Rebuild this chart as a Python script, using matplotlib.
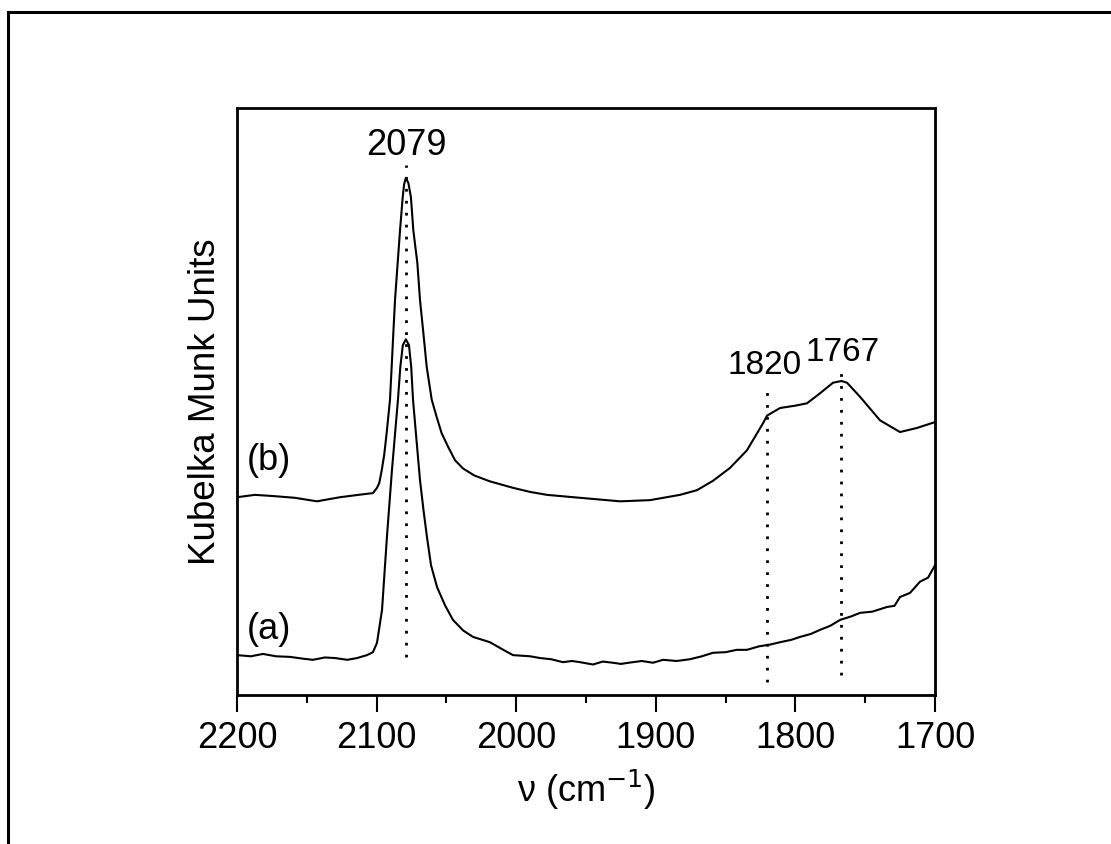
import numpy as np
import matplotlib
matplotlib.use('Agg')
import matplotlib.pyplot as plt
from matplotlib.patches import Rectangle
from matplotlib.ticker import MultipleLocator

plt.rcParams['font.family'] = ['Liberation Sans', 'DejaVu Sans']

# spectrum (b)
wn_b = [2200.0, 2187.1, 2174.2, 2158.5, 2142.7, 2126.2, 2109.7, 2102.6, 2099.7, 2098.1,
        2096.3, 2094.5, 2092.8, 2090.4, 2089.2, 2088.0, 2086.8, 2084.9, 2083.2, 2081.3,
        2080.3, 2079.0, 2077.2, 2075.4, 2073.7, 2070.8, 2068.9, 2066.5, 2064.1, 2060.5,
        2057.0, 2053.4, 2048.6, 2043.8, 2038.1, 2030.0, 2018.8, 2002.3, 1990.0, 1977.9,
        1954.3, 1925.6, 1904.2, 1882.7, 1870.5, 1859.0, 1846.8, 1834.7, 1823.2, 1820.3,
        1811.0, 1800.0, 1791.7, 1782.4, 1773.1, 1767.0, 1763.0, 1753.7, 1739.4, 1725.1,
        1712.9, 1700.0]
km_b = [0.337, 0.341, 0.339, 0.336, 0.330, 0.337, 0.342, 0.344, 0.353, 0.361,
        0.383, 0.410, 0.446, 0.503, 0.559, 0.617, 0.673, 0.736, 0.792, 0.848,
        0.870, 0.881, 0.872, 0.848, 0.792, 0.736, 0.673, 0.617, 0.559, 0.503,
        0.474, 0.446, 0.422, 0.400, 0.386, 0.374, 0.364, 0.353, 0.346, 0.341,
        0.336, 0.330, 0.332, 0.341, 0.349, 0.365, 0.387, 0.417, 0.463, 0.476,
        0.489, 0.493, 0.497, 0.514, 0.532, 0.535, 0.532, 0.508, 0.468, 0.448,
        0.455, 0.465]

# spectrum (a)
wn_a = [2200.0, 2190.0, 2181.4, 2172.0, 2162.0, 2153.0, 2145.6, 2137.0, 2129.8, 2121.0,
        2114.0, 2106.9, 2102.6, 2099.7, 2096.1, 2092.6, 2089.0, 2084.7, 2083.0, 2081.2,
        2079.0, 2076.8, 2075.2, 2073.9, 2071.4, 2068.9, 2066.4, 2063.9, 2061.0, 2056.7,
        2051.0, 2045.3, 2038.0, 2030.9, 2018.8, 2010.0, 2002.3, 1990.0, 1982.9, 1975.0,
        1966.5, 1960.0, 1954.3, 1945.0, 1938.0, 1930.7, 1925.0, 1919.5, 1910.0, 1902.0,
        1894.8, 1885.0, 1875.5, 1867.0, 1859.0, 1850.0, 1842.0, 1834.7, 1826.0, 1818.0,
        1811.0, 1803.0, 1796.7, 1789.0, 1782.4, 1775.0, 1768.0, 1760.0, 1753.7, 1745.0,
        1734.4, 1729.0, 1725.1, 1717.9, 1710.8, 1705.0, 1700.0]
km_a = [0.068, 0.066, 0.070, 0.066, 0.065, 0.062, 0.060, 0.064, 0.063, 0.060,
        0.063, 0.068, 0.073, 0.089, 0.145, 0.269, 0.383, 0.503, 0.559, 0.596,
        0.606, 0.596, 0.559, 0.503, 0.434, 0.366, 0.315, 0.269, 0.221, 0.184,
        0.153, 0.128, 0.110, 0.099, 0.090, 0.078, 0.068, 0.066, 0.063, 0.061,
        0.056, 0.058, 0.056, 0.052, 0.057, 0.055, 0.053, 0.055, 0.058, 0.055,
        0.060, 0.058, 0.061, 0.066, 0.072, 0.073, 0.077, 0.077, 0.083, 0.086,
        0.090, 0.094, 0.099, 0.104, 0.111, 0.118, 0.128, 0.134, 0.140, 0.142,
        0.150, 0.152, 0.167, 0.174, 0.193, 0.200, 0.221]

# marked peaks: position, dotted line span, label position
peak_pos = [2079, 1820, 1767]
peak_lo = [0.065, 0.022, 0.034]
peak_hi = [0.903, 0.528, 0.559]
peak_lbl = ['2079', '1820', '1767']
lbl_x = [2079, 1822, 1766]
lbl_y = [0.937, 0.562, 0.584]
lbl_size = [26, 24, 24]

fig = plt.figure(figsize=(11.11, 8.44), dpi=100)
ax = fig.add_axes([0.2133, 0.1765, 0.6283, 0.6955])

fig.patches.append(Rectangle((0.0072, -0.2), 1.2, 1.1858, transform=fig.transFigure,
                             fill=False, lw=2.2, ec='black', clip_on=False))

ax.plot(wn_b, km_b, color='black', lw=1.5)
ax.plot(wn_a, km_a, color='black', lw=1.5)

for p, lo, hi in zip(peak_pos, peak_lo, peak_hi):
    ax.plot([p, p], [lo, hi], color='black', lw=2.0, linestyle=(0, (1, 3.3)))
for t, x, y, fs in zip(peak_lbl, lbl_x, lbl_y, lbl_size):
    ax.text(x, y, t, ha='center', va='center', fontsize=fs)

ax.text(2177, 0.400, '(b)', ha='center', va='center', fontsize=26)
ax.text(2177, 0.111, '(a)', ha='center', va='center', fontsize=26)

ax.set_xlim(2200, 1700)
ax.set_ylim(0, 1)
ax.xaxis.set_major_locator(MultipleLocator(100))
ax.xaxis.set_minor_locator(MultipleLocator(50))
ax.tick_params(axis='x', which='major', direction='out', length=12, width=1.5,
               labelsize=26, pad=7, top=False)
ax.tick_params(axis='x', which='minor', direction='out', length=6, width=1.5, top=False)
ax.set_yticks([])
for s in ax.spines.values():
    s.set_linewidth(2.0)

ax.set_xlabel('ν (cm$^{-1}$)', fontsize=26, labelpad=8)
ax.set_ylabel('Kubelka Munk Units', fontsize=26.5, labelpad=10)

fig.savefig('out.png', dpi=100)
